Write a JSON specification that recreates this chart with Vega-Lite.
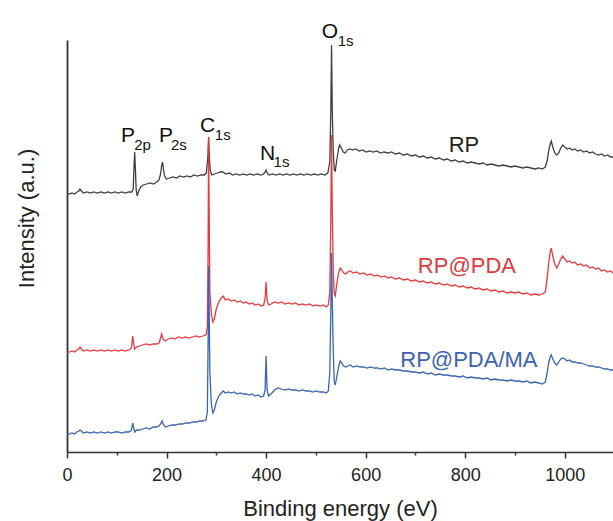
{
  "$schema": "https://vega.github.io/schema/vega-lite/v6.json",
  "autosize": {"type": "none"},
  "padding": {"left": 67, "top": 40, "right": 0, "bottom": 69},
  "width": 546,
  "height": 412,
  "config": {"view": {"stroke": null}, "font": "Liberation Sans"},
  "datasets": {
    "rp": [
      {"e":0,"v":259},{"e":5,"v":258},{"e":10,"v":259},{"e":15,"v":258},{"e":20,"v":260},{"e":24,"v":261},{"e":26,"v":263},{"e":29,"v":261},{"e":33,"v":259},{"e":40,"v":260},{"e":47,"v":259},{"e":54,"v":260},{"e":61,"v":259},{"e":68,"v":260},{"e":75,"v":259},{"e":82,"v":260},{"e":89,"v":259},{"e":96,"v":260},{"e":103,"v":259},{"e":110,"v":260},{"e":117,"v":259},{"e":124,"v":260},{"e":130,"v":260},{"e":133,"v":263},{"e":135,"v":290},{"e":136,"v":300},{"e":137,"v":288},{"e":139,"v":262},{"e":141,"v":256},{"e":144,"v":261},{"e":148,"v":265},{"e":153,"v":267},{"e":160,"v":268},{"e":167,"v":269},{"e":174,"v":268},{"e":180,"v":270},{"e":185,"v":272},{"e":188,"v":278},{"e":190,"v":286},{"e":192,"v":290},{"e":194,"v":282},{"e":196,"v":276},{"e":200,"v":273},{"e":206,"v":274},{"e":213,"v":275},{"e":220,"v":274},{"e":227,"v":276},{"e":234,"v":275},{"e":241,"v":276},{"e":248,"v":275},{"e":255,"v":277},{"e":262,"v":276},{"e":269,"v":277},{"e":276,"v":277},{"e":280,"v":279},{"e":283,"v":295},{"e":284.5,"v":315},{"e":286,"v":295},{"e":288,"v":281},{"e":291,"v":277},{"e":296,"v":278},{"e":302,"v":279},{"e":308,"v":280},{"e":313,"v":280},{"e":319,"v":278},{"e":326,"v":279},{"e":333,"v":277},{"e":340,"v":278},{"e":347,"v":277},{"e":354,"v":278},{"e":361,"v":277},{"e":368,"v":278},{"e":375,"v":277},{"e":382,"v":278},{"e":389,"v":277},{"e":395,"v":278},{"e":398,"v":280},{"e":400,"v":282},{"e":402,"v":279},{"e":406,"v":277},{"e":413,"v":278},{"e":420,"v":277},{"e":427,"v":278},{"e":434,"v":277},{"e":441,"v":278},{"e":448,"v":277},{"e":455,"v":278},{"e":462,"v":277},{"e":469,"v":278},{"e":476,"v":277},{"e":483,"v":278},{"e":490,"v":277},{"e":497,"v":278},{"e":504,"v":277},{"e":511,"v":278},{"e":518,"v":277},{"e":524,"v":279},{"e":528,"v":290},{"e":530,"v":340},{"e":531.5,"v":407},{"e":533,"v":340},{"e":535,"v":300},{"e":537,"v":282},{"e":539,"v":281},{"e":542,"v":292},{"e":546,"v":304},{"e":548,"v":307},{"e":551,"v":304},{"e":555,"v":300},{"e":559,"v":299},{"e":563,"v":302},{"e":568,"v":303},{"e":574,"v":302},{"e":580,"v":303},{"e":587,"v":301},{"e":594,"v":302},{"e":601,"v":300},{"e":608,"v":301},{"e":615,"v":300},{"e":622,"v":301},{"e":630,"v":299},{"e":637,"v":300},{"e":645,"v":299},{"e":652,"v":300},{"e":660,"v":298},{"e":668,"v":299},{"e":676,"v":297},{"e":684,"v":298},{"e":692,"v":296},{"e":700,"v":297},{"e":708,"v":295},{"e":716,"v":296},{"e":724,"v":294},{"e":732,"v":295},{"e":740,"v":293},{"e":748,"v":294},{"e":756,"v":292},{"e":764,"v":293},{"e":772,"v":291},{"e":780,"v":292},{"e":788,"v":290},{"e":796,"v":291},{"e":804,"v":289},{"e":812,"v":290},{"e":820,"v":289},{"e":828,"v":288},{"e":836,"v":289},{"e":844,"v":287},{"e":852,"v":288},{"e":860,"v":287},{"e":868,"v":286},{"e":876,"v":287},{"e":884,"v":286},{"e":892,"v":285},{"e":900,"v":286},{"e":908,"v":285},{"e":916,"v":284},{"e":924,"v":285},{"e":932,"v":284},{"e":940,"v":283},{"e":948,"v":284},{"e":955,"v":283},{"e":961,"v":285},{"e":965,"v":292},{"e":968,"v":302},{"e":971,"v":308},{"e":973,"v":311},{"e":976,"v":305},{"e":980,"v":299},{"e":984,"v":297},{"e":988,"v":299},{"e":992,"v":304},{"e":996,"v":307},{"e":1000,"v":305},{"e":1005,"v":303},{"e":1010,"v":304},{"e":1015,"v":302},{"e":1020,"v":303},{"e":1026,"v":301},{"e":1032,"v":302},{"e":1038,"v":300},{"e":1044,"v":301},{"e":1050,"v":299},{"e":1056,"v":300},{"e":1062,"v":298},{"e":1068,"v":297},{"e":1074,"v":298},{"e":1080,"v":296},{"e":1086,"v":297},{"e":1092,"v":295},{"e":1097,"v":295}
    ],
    "pda": [
      {"e":0,"v":99},{"e":5,"v":100},{"e":10,"v":101},{"e":15,"v":100},{"e":20,"v":102},{"e":24,"v":103},{"e":26,"v":105},{"e":29,"v":103},{"e":33,"v":101},{"e":40,"v":102},{"e":47,"v":101},{"e":54,"v":102},{"e":61,"v":101},{"e":68,"v":102},{"e":75,"v":101},{"e":82,"v":102},{"e":89,"v":101},{"e":96,"v":102},{"e":103,"v":101},{"e":110,"v":102},{"e":117,"v":101},{"e":124,"v":102},{"e":128,"v":103},{"e":130,"v":106},{"e":132,"v":116},{"e":134,"v":108},{"e":136,"v":103},{"e":140,"v":105},{"e":146,"v":106},{"e":152,"v":107},{"e":159,"v":108},{"e":166,"v":107},{"e":173,"v":108},{"e":180,"v":108},{"e":185,"v":109},{"e":188,"v":114},{"e":190,"v":118},{"e":193,"v":113},{"e":197,"v":111},{"e":203,"v":113},{"e":210,"v":114},{"e":217,"v":113},{"e":224,"v":115},{"e":231,"v":114},{"e":238,"v":115},{"e":245,"v":114},{"e":252,"v":115},{"e":259,"v":116},{"e":266,"v":115},{"e":273,"v":116},{"e":279,"v":117},{"e":282,"v":125},{"e":283.5,"v":200},{"e":284.5,"v":314},{"e":285.5,"v":250},{"e":287,"v":160},{"e":290,"v":138},{"e":293,"v":130},{"e":296,"v":133},{"e":300,"v":143},{"e":305,"v":150},{"e":310,"v":154},{"e":314,"v":156},{"e":318,"v":152},{"e":324,"v":153},{"e":330,"v":151},{"e":336,"v":152},{"e":342,"v":150},{"e":348,"v":151},{"e":354,"v":149},{"e":360,"v":150},{"e":366,"v":148},{"e":372,"v":149},{"e":378,"v":147},{"e":384,"v":148},{"e":390,"v":146},{"e":395,"v":147},{"e":398,"v":153},{"e":400,"v":170},{"e":402,"v":152},{"e":405,"v":147},{"e":410,"v":148},{"e":417,"v":150},{"e":424,"v":149},{"e":431,"v":150},{"e":438,"v":148},{"e":445,"v":149},{"e":452,"v":148},{"e":459,"v":149},{"e":466,"v":147},{"e":473,"v":148},{"e":480,"v":147},{"e":487,"v":148},{"e":494,"v":146},{"e":501,"v":147},{"e":508,"v":146},{"e":515,"v":147},{"e":521,"v":145},{"e":525,"v":147},{"e":528,"v":160},{"e":530,"v":230},{"e":531.5,"v":317},{"e":533,"v":240},{"e":535,"v":180},{"e":537,"v":158},{"e":539,"v":156},{"e":542,"v":168},{"e":546,"v":180},{"e":549,"v":184},{"e":552,"v":182},{"e":556,"v":179},{"e":560,"v":178},{"e":564,"v":180},{"e":569,"v":181},{"e":575,"v":179},{"e":582,"v":180},{"e":589,"v":178},{"e":596,"v":179},{"e":603,"v":177},{"e":610,"v":178},{"e":617,"v":176},{"e":624,"v":177},{"e":631,"v":175},{"e":638,"v":176},{"e":645,"v":174},{"e":652,"v":175},{"e":660,"v":173},{"e":668,"v":174},{"e":676,"v":172},{"e":684,"v":173},{"e":692,"v":171},{"e":700,"v":172},{"e":708,"v":170},{"e":716,"v":171},{"e":724,"v":169},{"e":732,"v":170},{"e":740,"v":168},{"e":748,"v":169},{"e":756,"v":167},{"e":764,"v":168},{"e":772,"v":166},{"e":780,"v":167},{"e":788,"v":165},{"e":796,"v":166},{"e":804,"v":164},{"e":812,"v":165},{"e":820,"v":163},{"e":828,"v":164},{"e":836,"v":162},{"e":844,"v":163},{"e":852,"v":161},{"e":860,"v":162},{"e":868,"v":160},{"e":876,"v":161},{"e":884,"v":159},{"e":892,"v":160},{"e":900,"v":159},{"e":908,"v":160},{"e":916,"v":158},{"e":924,"v":159},{"e":932,"v":157},{"e":940,"v":158},{"e":948,"v":157},{"e":955,"v":158},{"e":961,"v":160},{"e":965,"v":175},{"e":968,"v":190},{"e":971,"v":200},{"e":973,"v":204},{"e":976,"v":196},{"e":980,"v":188},{"e":984,"v":184},{"e":988,"v":188},{"e":992,"v":193},{"e":996,"v":196},{"e":1000,"v":193},{"e":1005,"v":190},{"e":1010,"v":191},{"e":1015,"v":189},{"e":1020,"v":190},{"e":1026,"v":187},{"e":1032,"v":188},{"e":1038,"v":186},{"e":1044,"v":187},{"e":1050,"v":184},{"e":1056,"v":185},{"e":1062,"v":183},{"e":1068,"v":184},{"e":1074,"v":181},{"e":1080,"v":182},{"e":1086,"v":180},{"e":1092,"v":181},{"e":1097,"v":179}
    ],
    "ma": [
      {"e":0,"v":17},{"e":5,"v":18},{"e":10,"v":19},{"e":15,"v":18},{"e":20,"v":20},{"e":24,"v":21},{"e":26,"v":22},{"e":29,"v":21},{"e":33,"v":19},{"e":40,"v":20},{"e":47,"v":19},{"e":54,"v":20},{"e":61,"v":19},{"e":68,"v":20},{"e":75,"v":19},{"e":82,"v":20},{"e":89,"v":19},{"e":96,"v":20},{"e":103,"v":20},{"e":110,"v":19},{"e":117,"v":20},{"e":124,"v":20},{"e":128,"v":21},{"e":130,"v":23},{"e":132,"v":29},{"e":134,"v":24},{"e":136,"v":20},{"e":140,"v":22},{"e":146,"v":22},{"e":152,"v":23},{"e":159,"v":24},{"e":166,"v":23},{"e":173,"v":25},{"e":180,"v":25},{"e":185,"v":26},{"e":188,"v":28},{"e":191,"v":31},{"e":194,"v":27},{"e":198,"v":25},{"e":204,"v":26},{"e":211,"v":27},{"e":218,"v":27},{"e":225,"v":28},{"e":232,"v":28},{"e":239,"v":29},{"e":246,"v":29},{"e":253,"v":30},{"e":260,"v":30},{"e":267,"v":31},{"e":273,"v":31},{"e":279,"v":32},{"e":282,"v":40},{"e":283.5,"v":110},{"e":284.5,"v":186},{"e":285.5,"v":150},{"e":287,"v":80},{"e":290,"v":48},{"e":293,"v":39},{"e":296,"v":42},{"e":300,"v":50},{"e":305,"v":56},{"e":310,"v":59},{"e":314,"v":61},{"e":318,"v":59},{"e":324,"v":60},{"e":330,"v":59},{"e":336,"v":60},{"e":342,"v":58},{"e":348,"v":59},{"e":354,"v":58},{"e":360,"v":58},{"e":366,"v":57},{"e":372,"v":58},{"e":378,"v":56},{"e":384,"v":57},{"e":390,"v":55},{"e":395,"v":56},{"e":398,"v":62},{"e":400,"v":96},{"e":402,"v":62},{"e":405,"v":56},{"e":410,"v":58},{"e":417,"v":62},{"e":424,"v":64},{"e":431,"v":63},{"e":438,"v":62},{"e":445,"v":63},{"e":452,"v":62},{"e":459,"v":62},{"e":466,"v":61},{"e":473,"v":62},{"e":480,"v":61},{"e":487,"v":61},{"e":494,"v":60},{"e":501,"v":61},{"e":508,"v":60},{"e":515,"v":60},{"e":521,"v":59},{"e":525,"v":61},{"e":528,"v":80},{"e":530,"v":140},{"e":531.5,"v":199},{"e":533,"v":150},{"e":535,"v":100},{"e":537,"v":70},{"e":539,"v":67},{"e":542,"v":75},{"e":546,"v":86},{"e":549,"v":91},{"e":552,"v":89},{"e":556,"v":86},{"e":560,"v":85},{"e":564,"v":86},{"e":569,"v":87},{"e":575,"v":85},{"e":582,"v":86},{"e":589,"v":85},{"e":596,"v":85},{"e":603,"v":84},{"e":610,"v":85},{"e":617,"v":84},{"e":624,"v":84},{"e":631,"v":83},{"e":638,"v":84},{"e":645,"v":82},{"e":652,"v":83},{"e":660,"v":82},{"e":668,"v":82},{"e":676,"v":81},{"e":684,"v":81},{"e":692,"v":80},{"e":700,"v":80},{"e":708,"v":79},{"e":716,"v":80},{"e":724,"v":78},{"e":732,"v":79},{"e":740,"v":77},{"e":748,"v":78},{"e":756,"v":77},{"e":764,"v":77},{"e":772,"v":76},{"e":780,"v":76},{"e":788,"v":75},{"e":796,"v":76},{"e":804,"v":74},{"e":812,"v":75},{"e":820,"v":74},{"e":828,"v":74},{"e":836,"v":73},{"e":844,"v":74},{"e":852,"v":72},{"e":860,"v":73},{"e":868,"v":72},{"e":876,"v":72},{"e":884,"v":71},{"e":892,"v":72},{"e":900,"v":71},{"e":908,"v":71},{"e":916,"v":70},{"e":924,"v":71},{"e":932,"v":69},{"e":940,"v":70},{"e":948,"v":69},{"e":955,"v":68},{"e":961,"v":70},{"e":965,"v":80},{"e":968,"v":90},{"e":971,"v":95},{"e":973,"v":97},{"e":976,"v":93},{"e":980,"v":89},{"e":984,"v":87},{"e":988,"v":90},{"e":992,"v":93},{"e":996,"v":94},{"e":1000,"v":93},{"e":1005,"v":91},{"e":1010,"v":92},{"e":1015,"v":90},{"e":1020,"v":90},{"e":1026,"v":89},{"e":1032,"v":89},{"e":1038,"v":88},{"e":1044,"v":87},{"e":1050,"v":86},{"e":1056,"v":86},{"e":1062,"v":85},{"e":1068,"v":85},{"e":1074,"v":84},{"e":1080,"v":83},{"e":1086,"v":83},{"e":1092,"v":82},{"e":1097,"v":82}
    ],
    "peaks": [
      {"e":108.5,"v":310,"t":"P"},{"e":184.8,"v":310,"t":"P"},{"e":267,"v":320,"t":"C"},{"e":387.7,"v":292,"t":"N"},{"e":512,"v":414,"t":"O"}
    ],
    "subs": [
      {"e":135,"v":302,"t":"2p"},{"e":209,"v":302,"t":"2s"},{"e":297,"v":312,"t":"1s"},{"e":415,"v":285,"t":"1s"},{"e":544,"v":406,"t":"1s"}
    ],
    "names": [
      {"e":797.5,"v":300,"t":"RP"},{"e":803.5,"v":179,"t":"RP@PDA"},{"e":807.5,"v":85,"t":"RP@PDA/MA"}
    ]
  },
  "encoding": {
    "x": {
      "field": "e", "type": "quantitative",
      "scale": {"domain": [0, 1097], "nice": false, "zero": false},
      "axis": {
        "values": [0,100,200,300,400,500,600,700,800,900,1000],
        "format": "d",
        "labelExpr": "datum.value % 200 === 0 ? datum.label : ''",
        "tickSize": {"condition": {"test": "datum.value % 200 === 0", "value": 6}, "value": 3},
        "grid": false, "labelFlush": false, "labelOverlap": false,
        "domainColor": "#333333", "domainWidth": 1.5, "tickColor": "#333333", "tickWidth": 1.5,
        "labelFontSize": 18, "labelColor": "#222222", "labelPadding": 8,
        "title": "Binding energy (eV)", "titleFontSize": 22, "titleFontWeight": "normal", "titleColor": "#222222", "titlePadding": 14
      }
    },
    "y": {
      "field": "v", "type": "quantitative",
      "scale": {"domain": [0, 412], "nice": false, "zero": false},
      "axis": {
        "ticks": false, "labels": false, "grid": false,
        "domainColor": "#333333", "domainWidth": 1.8,
        "title": "Intensity (a.u.)", "titleFontSize": 22, "titleFontWeight": "normal", "titleColor": "#222222",
        "titleAngle": -90, "titleAlign": "center", "titleBaseline": "alphabetic", "titleX": -34, "titleY": 178
      }
    }
  },
  "layer": [
    {"data": {"name": "rp"}, "mark": {"type": "line", "color": "#404040", "strokeWidth": 1.3, "clip": true}},
    {"data": {"name": "pda"}, "mark": {"type": "line", "color": "#e8393d", "strokeWidth": 1.3, "clip": true}},
    {"data": {"name": "ma"}, "mark": {"type": "line", "color": "#3a63b5", "strokeWidth": 1.3, "clip": true}},
    {"data": {"name": "peaks"}, "mark": {"type": "text", "fontSize": 21, "align": "left", "baseline": "alphabetic", "color": "#111111"}, "encoding": {"text": {"field": "t"}}},
    {"data": {"name": "subs"}, "mark": {"type": "text", "fontSize": 15, "align": "left", "baseline": "alphabetic", "color": "#111111"}, "encoding": {"text": {"field": "t"}}},
    {"data": {"name": "names"}, "mark": {"type": "text", "fontSize": 22, "align": "center", "baseline": "alphabetic"}, "encoding": {"text": {"field": "t"}, "color": {"field": "t", "type": "nominal", "scale": {"domain": ["RP","RP@PDA","RP@PDA/MA"], "range": ["#222222","#e03a3e","#3a63b5"]}, "legend": null}}}
  ]
}
